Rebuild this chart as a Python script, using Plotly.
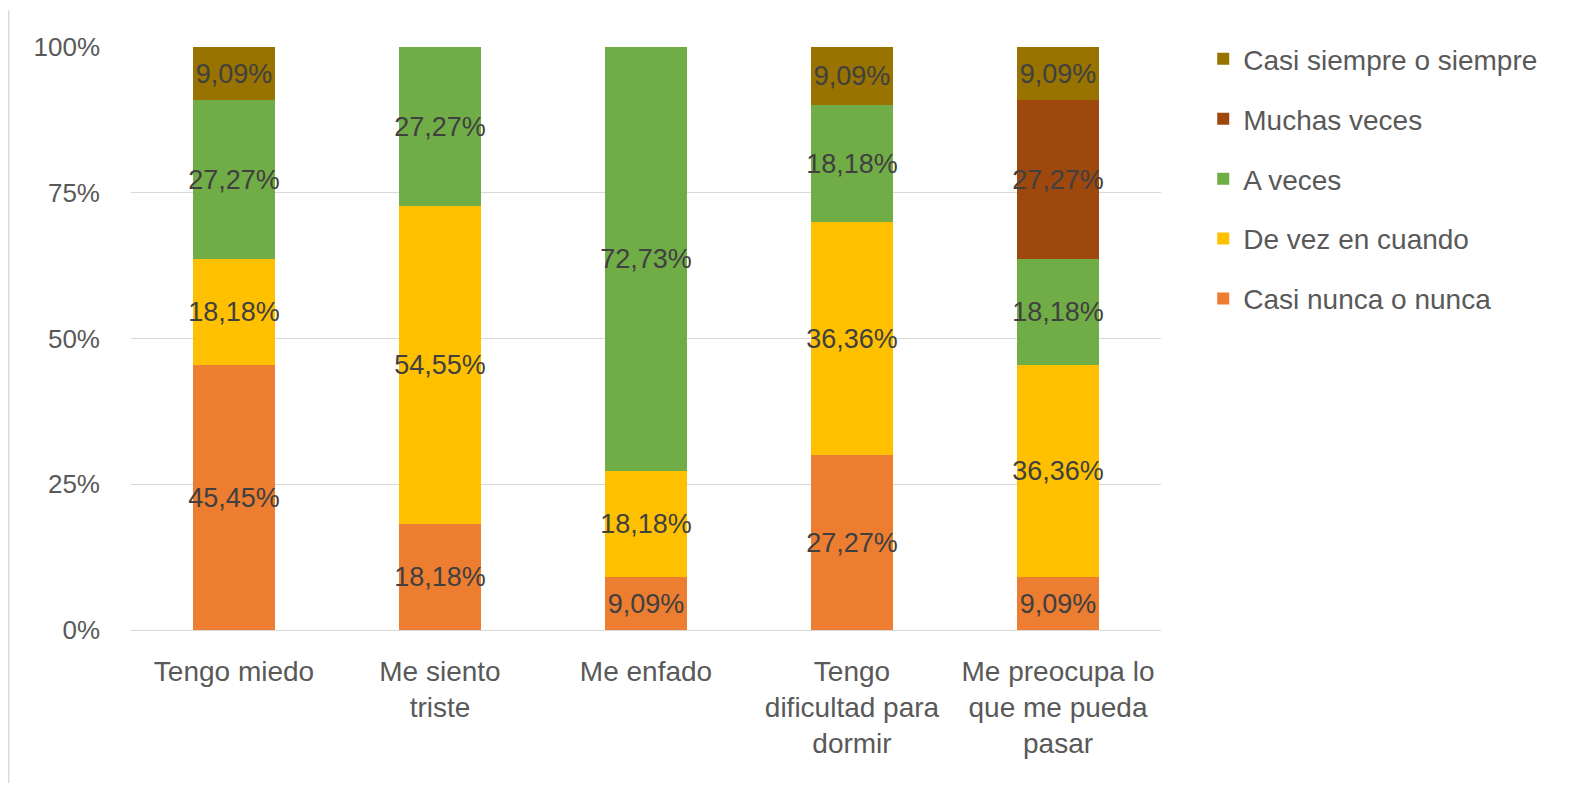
import plotly.graph_objects as go

categories = ["Tengo miedo", "Me siento<br>triste", "Me enfado",
              "Tengo<br>dificultad para<br>dormir", "Me preocupa lo<br>que me pueda<br>pasar"]
series_names = ["Casi nunca o nunca", "De vez en cuando", "A veces", "Muchas veces", "Casi siempre o siempre"]
casi_nunca = [45.45, 18.18, 9.09, 27.27, 9.09]
de_vez = [18.18, 54.55, 18.18, 36.36, 36.36]
a_veces = [27.27, 27.27, 72.73, 18.18, 18.18]
muchas = [None, None, None, None, 27.27]
casi_siempre = [9.09, None, None, 9.09, 9.09]
colors = ["#ED7D31", "#FFC000", "#70AD47", "#9E480E", "#997300"]
y_ticks = [0, 25, 50, 75, 100]
y_ticktext = ["0%", "25%", "50%", "75%", "100%"]

FONT = "Liberation Sans"
fig = go.Figure()
all_vals = [casi_nunca, de_vez, a_veces, muchas, casi_siempre]
for i, (name, vals, col) in enumerate(zip(series_names, all_vals, colors)):
    txt = [("" if v is None else f"{v:.2f}".replace(".", ",") + "%") for v in vals]
    fig.add_trace(go.Bar(
        x=categories, y=vals, name=name, marker=dict(color=col, line=dict(width=0)),
        text=txt, textposition="inside", insidetextanchor="middle", textangle=0,
        textfont=dict(family=FONT, size=27, color="#404040"),
        legendgroup=name, legendrank=len(series_names) - i, cliponaxis=False,
    ))

fig.update_layout(
    barmode="stack", barnorm="percent", bargap=0.6,
    width=1555, height=775,
    margin=dict(l=123, r=402, t=39, b=153),
    paper_bgcolor="white", plot_bgcolor="white",
    font=dict(family=FONT, size=26, color="#595959"),
    uniformtext=dict(minsize=27, mode="show"),
    legend=dict(x=1.041, y=1.022, xanchor="left", yanchor="top",
                traceorder="grouped", tracegroupgap=20.5,
                font=dict(family=FONT, size=28, color="#595959"),
                itemwidth=30),
    xaxis=dict(showline=True, linecolor="#d9d9d9", linewidth=1, ticks="",
               tickfont=dict(family=FONT, size=28, color="#595959"),
               ticklabelstandoff=16),
    yaxis=dict(range=[0, 100.001], tickmode="array", tickvals=y_ticks, ticktext=y_ticktext,
               showgrid=True, gridcolor="#d9d9d9", gridwidth=1, zeroline=False,
               tickfont=dict(family=FONT, size=26, color="#595959"), ticklabelstandoff=30),
    shapes=[dict(type="line", xref="paper", yref="paper", x0=-0.119, x1=-0.119,
                 y0=1.063, y1=-0.28, line=dict(color="#d9d9d9", width=2))],
)
fig.write_html("out.html")
